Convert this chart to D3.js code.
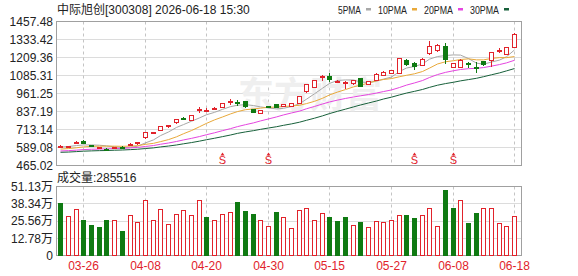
<!DOCTYPE html>
<html>
<head>
<meta charset="utf-8">
<script src="https://cdn.jsdelivr.net/npm/d3@7"></script>
<style>
  body { margin: 0; background: #fff; }
  svg { display: block; font-family: "Liberation Sans", "Noto Sans CJK SC", sans-serif; font-size: 12px; }
</style>
</head>
<body>
<div id="chart"></div>
<script>
// ---- data ----------------------------------------------------------------
const title = "中际旭创[300308] 2026-06-18 15:30";

const dates = ["03-23","03-24","03-25","03-26","03-27","03-30","03-31","04-01","04-02","04-03",
  "04-07","04-08","04-09","04-10","04-13","04-14","04-15","04-16","04-17","04-20",
  "04-21","04-22","04-23","04-24","04-27","04-28","04-29","04-30","05-06","05-07",
  "05-08","05-11","05-12","05-13","05-14","05-15","05-18","05-19","05-20","05-21",
  "05-22","05-25","05-26","05-27","05-28","05-29","06-01","06-02","06-03","06-04",
  "06-05","06-08","06-09","06-10","06-11","06-12","06-15","06-16","06-17","06-18"];

const open  = [592,593,619,630,604,585,578,587,592,606, 616,659,688,710,733,757,791,776,843,844,
  853,866,898,902,903,851,827,871,888,871, 870,893,970,1006,1072,1078,1043,1036,1027,1065,
  1022,1055,1088,1098,1100,1190,1168,1158,1232,1258, 1283,1142,1145,1166,1140,1180,1192,1250,1234,1281];
const high  = [606,600,635,642,606,592,584,595,596,622, 630,692,698,740,745,781,800,812,866,862,
  868,896,922,918,910,855,850,876,892,892, 898,946,1022,1055,1092,1100,1052,1045,1055,1070,
  1045,1100,1115,1125,1205,1200,1180,1206,1325,1300, 1310,1172,1200,1180,1175,1185,1248,1276,1283,1380];
const low   = [588,585,612,612,595,582,568,582,585,597, 608,645,682,703,725,750,778,770,827,838,
  850,862,885,876,860,826,823,860,860,865, 866,888,965,1000,1050,1040,1035,990,1020,1005,
  1018,1050,1082,1093,1095,1150,1125,1150,1228,1250, 1165,1138,1140,1135,1100,1150,1146,1240,1228,1275];
const close = [596,597,624,618,599,586,576,591,588,613, 622,691,694,735,738,779,789,810,849,847,
  861,893,903,897,868,830,846,867,864,888, 893,944,1020,1052,1078,1060,1045,1039,1048,1010,
  1042,1095,1108,1118,1203,1160,1148,1196,1283,1293, 1195,1169,1190,1163,1136,1157,1245,1256,1279,1370];

// closes before the window, estimated from where the MA lines start
const priorCloses = [545,532,528,540,536,548,530,542,535,544, 548,556,541,553,560,547,555,550,558,552,
  560,568,558,566,568, 578,590,598,598];

const volume = [383000,286000,338000,263000,226000,210000,263000,256000,180000,293000,
  241000,406000,256000,338000,233000,301000,331000,293000,406000,278000,
  256000,301000,316000,391000,323000,303000,256000,218000,316000,278000,
  200000,331000,351000,261000,308000,278000,251000,278000,226000,243000,
  211000,253000,243000,256000,293000,293000,271000,293000,351000,218000,
  481000,346000,406000,236000,308000,351000,346000,236000,218000,285516];

const priceTicks = [465.02, 589.08, 713.14, 837.19, 961.25, 1085.31, 1209.36, 1333.42, 1457.48];
const volumeTicks = [0, 127800, 255600, 383400, 511300];
const dateTicks = ["03-26","04-08","04-20","04-30","05-15","05-27","06-08","06-18"];
const signalDates = ["04-22","04-30","06-01","06-08"];

const maPeriods = [5, 10, 20, 30];
const maColors = ["#a8a8a8", "#e9a93a", "#e545e0", "#17603a"];

// ---- set up --------------------------------------------------------------
const width = 578, height = 276;
const red = "#e1232b", green = "#0f7a12";
const left = 56.5, right = 521.5;
const pTop = 21.5, pBottom = 165.5;
const vTop = 186.5, vBottom = 255.5;

const svg = d3.select("#chart").append("svg")
    .attr("width", width)
    .attr("height", height);

const x = d3.scaleBand()
    .domain(d3.range(dates.length))
    .range([56.5, 517.9]);
const cx = i => Math.round(x(i) + x.bandwidth() / 2);

const yP = d3.scaleLinear()
    .domain([priceTicks[0], priceTicks[priceTicks.length - 1]])
    .range([pBottom, pTop]);
const yV = d3.scaleLinear()
    .domain([0, volumeTicks[volumeTicks.length - 1]])
    .range([vBottom, vTop]);

const crisp = v => Math.round(v - 0.5) + 0.5;

// ---- grid & frames -------------------------------------------------------
function panel(ticks, y, top, bottom) {
  const g = svg.append("g");
  g.selectAll(".h").data(ticks).enter().append("line")
      .attr("x1", left).attr("x2", right)
      .attr("y1", d => crisp(y(d))).attr("y2", d => crisp(y(d)))
      .attr("stroke", "#dcdcdc");
  g.selectAll(".v").data(dateTicks).enter().append("line")
      .attr("x1", d => cx(dates.indexOf(d)) + 0.5).attr("x2", d => cx(dates.indexOf(d)) + 0.5)
      .attr("y1", top).attr("y2", bottom)
      .attr("stroke", "#c4c4c4")
      .attr("stroke-dasharray", "3,3");
  g.append("rect")
      .attr("x", left).attr("y", top)
      .attr("width", right - left).attr("height", bottom - top)
      .attr("fill", "none")
      .attr("stroke", "#a0a0a0");
  return g;
}
panel(priceTicks, yP, pTop, pBottom);
panel(volumeTicks, yV, vTop, vBottom);

// watermark
svg.append("text")
    .attr("x", 238).attr("y", 108)
    .attr("font-size", 36)
    .attr("font-weight", "bold")
    .attr("fill", "#efefef")
    .text("东方财富");

// ---- axes labels ---------------------------------------------------------
svg.append("g").selectAll("text").data(priceTicks).enter().append("text")
    .attr("x", 53).attr("y", d => yP(d))
    .attr("dy", "0.36em")
    .attr("text-anchor", "end")
    .attr("fill", "#222")
    .text(d => d.toFixed(2));

svg.append("g").selectAll("text").data(volumeTicks).enter().append("text")
    .attr("x", 53).attr("y", d => yV(d))
    .attr("dy", "0.36em")
    .attr("text-anchor", "end")
    .attr("fill", "#222")
    .text(d => d === 0 ? "0" : (d / 10000).toFixed(2) + "万");

svg.append("g").selectAll("text").data(dateTicks).enter().append("text")
    .attr("x", d => cx(dates.indexOf(d)) + 0.5).attr("y", 270)
    .attr("text-anchor", "middle")
    .attr("fill", red)
    .text(d => d);

// title and legend
svg.append("text")
    .attr("x", 57).attr("y", 13.5)
    .attr("fill", "#222")
    .text(title);

let lx = 338;
maPeriods.forEach((p, k) => {
  const label = p + "PMA";
  const w = label.length * 6;
  svg.append("text")
      .attr("x", lx).attr("y", 13.5)
      .attr("font-size", 11)
      .attr("textLength", w - 1)
      .attr("lengthAdjust", "spacingAndGlyphs")
      .attr("fill", "#222")
      .text(label);
  svg.append("rect")
      .attr("x", lx + w + 4).attr("y", 8)
      .attr("width", 5).attr("height", 2.5)
      .attr("fill", maColors[k]);
  lx += w + 4 + 12;
});

svg.append("text")
    .attr("x", 57).attr("y", 181.5)
    .attr("fill", "#222")
    .text("成交量:" + volume[volume.length - 1]);

// ---- moving averages -----------------------------------------------------
const allCloses = priorCloses.concat(close);
const offset = priorCloses.length;
maPeriods.forEach((p, k) => {
  const values = close.map((c, i) => d3.mean(allCloses.slice(offset + i - p + 1, offset + i + 1)));
  svg.append("path")
      .datum(values)
      .attr("fill", "none")
      .attr("stroke", maColors[k])
      .attr("stroke-width", 1)
      .attr("d", d3.line().x((d, i) => cx(i) + 0.5).y(d => yP(d)));
});

// ---- candles -------------------------------------------------------------
const candles = svg.append("g").selectAll("g")
    .data(close.map((c, i) => ({ i, o: open[i], h: high[i], l: low[i], c })))
    .enter().append("g");

candles.append("line")
    .attr("x1", d => cx(d.i) + 0.5).attr("x2", d => cx(d.i) + 0.5)
    .attr("y1", d => Math.round(yP(d.h))).attr("y2", d => Math.round(yP(d.l)))
    .attr("stroke", d => d.c >= d.o ? red : green);

candles.append("rect")
    .attr("x", d => cx(d.i) - 1.5)
    .attr("width", 4)
    .attr("y", d => crisp(yP(Math.max(d.o, d.c))))
    .attr("height", d => Math.max(1, Math.round(yP(Math.min(d.o, d.c)) - yP(Math.max(d.o, d.c)))))
    .attr("fill", d => d.c >= d.o ? "#fff" : green)
    .attr("stroke", d => d.c >= d.o ? red : green);

// buy/sell signals
const signals = svg.append("g").selectAll("g")
    .data(signalDates.map(d => dates.indexOf(d)))
    .enter().append("g");
signals.append("path")
    .attr("d", i => `M${cx(i) - 1.5},155.5L${cx(i) + 0.5},152.5L${cx(i) + 2.5},155.5Z`)
    .attr("fill", red);
signals.append("text")
    .attr("x", i => cx(i) + 0.5).attr("y", 164)
    .attr("font-size", 11)
    .attr("text-anchor", "middle")
    .attr("fill", red)
    .text("S");

// ---- volume --------------------------------------------------------------
svg.append("g").selectAll("rect")
    .data(volume)
    .enter().append("rect")
    .attr("x", (d, i) => cx(i) - 1.5)
    .attr("width", 4)
    .attr("y", d => crisp(yV(d)))
    .attr("height", d => vBottom - crisp(yV(d)))
    .attr("fill", (d, i) => close[i] >= allCloses[offset + i - 1] ? "#fff" : green)
    .attr("stroke", (d, i) => close[i] >= allCloses[offset + i - 1] ? red : green);
</script>
</body>
</html>
